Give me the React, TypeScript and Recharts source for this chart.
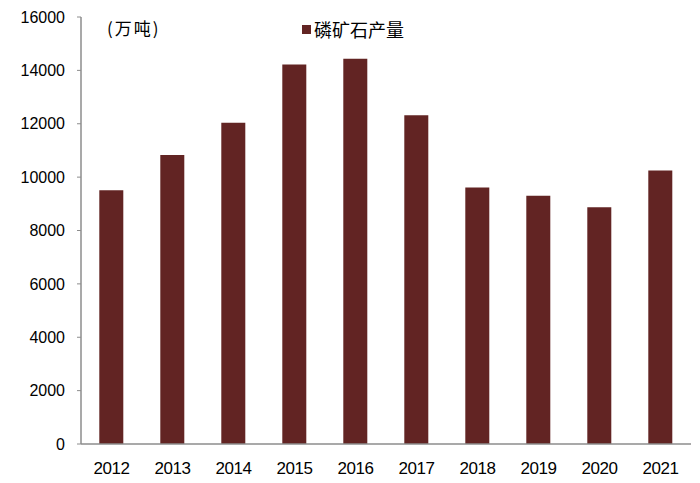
import React from 'react';
import { BarChart, Bar, XAxis, YAxis } from 'recharts';

const years = ['2012', '2013', '2014', '2015', '2016', '2017', '2018', '2019', '2020', '2021'];
const output = [9510, 10830, 12040, 14220, 14440, 12320, 9610, 9300, 8870, 10250];
const yTicks = [0, 2000, 4000, 6000, 8000, 10000, 12000, 14000, 16000];
const seriesName = '磷矿石产量';
const unitLabel = '(万吨)';

const data = years.map((y, i) => ({ year: y, value: output[i] }));
const edges = years.map((_, i) => i).concat([years.length]);

const FONT = '"Liberation Sans", Arial, sans-serif';
const CJK = '"Noto Sans CJK SC", sans-serif';
const BAR = '#622423';
const AXIS = '#8c8c8c';

export default function App() {
  return (
    <div style={{ position: 'absolute', left: 0, top: 0, width: 700, height: 483, background: '#fff' }}>
      <div style={{ position: 'absolute', left: 107, top: 15, fontFamily: CJK, fontSize: 17, letterSpacing: 2, lineHeight: '26px', color: '#000', zIndex: 2 }}>
        {unitLabel}
      </div>
      <div style={{ position: 'absolute', left: 302, top: 15, display: 'flex', alignItems: 'center', fontFamily: CJK, fontSize: 18, lineHeight: '28px', color: '#000', zIndex: 2 }}>
        <span style={{ display: 'inline-block', width: 9, height: 9, background: BAR, marginRight: 3 }} />
        <span>{seriesName}</span>
      </div>
      <BarChart width={700} height={483} data={data} margin={{ top: 17, right: 9, bottom: 9, left: 0 }} barCategoryGap="30%">
        <XAxis
          xAxisId="edges"
          type="number"
          domain={[0, years.length]}
          ticks={edges}
          height={0}
          axisLine={false}
          tickLine={{ stroke: AXIS }}
          tickSize={5}
          tickFormatter={() => ''}
          allowDataOverflow
        />
        <XAxis
          dataKey="year"
          height={30}
          axisLine={{ stroke: AXIS, strokeWidth: 1.5 }}
          tickLine={false}
          tick={{ fill: '#000', fontSize: 17, fontFamily: FONT, letterSpacing: -0.5 }}
          tickMargin={12}
          interval={0}
        />
        <YAxis
          width={81}
          domain={[0, 16000]}
          ticks={yTicks}
          interval={0}
          axisLine={{ stroke: AXIS, strokeWidth: 1.5 }}
          tickLine={{ stroke: AXIS }}
          tickSize={4}
          tickMargin={12}
          tick={{ fill: '#000', fontSize: 16, fontFamily: FONT }}
        />
        <Bar dataKey="value" name={seriesName} fill={BAR} isAnimationActive={false} />
      </BarChart>
    </div>
  );
}
